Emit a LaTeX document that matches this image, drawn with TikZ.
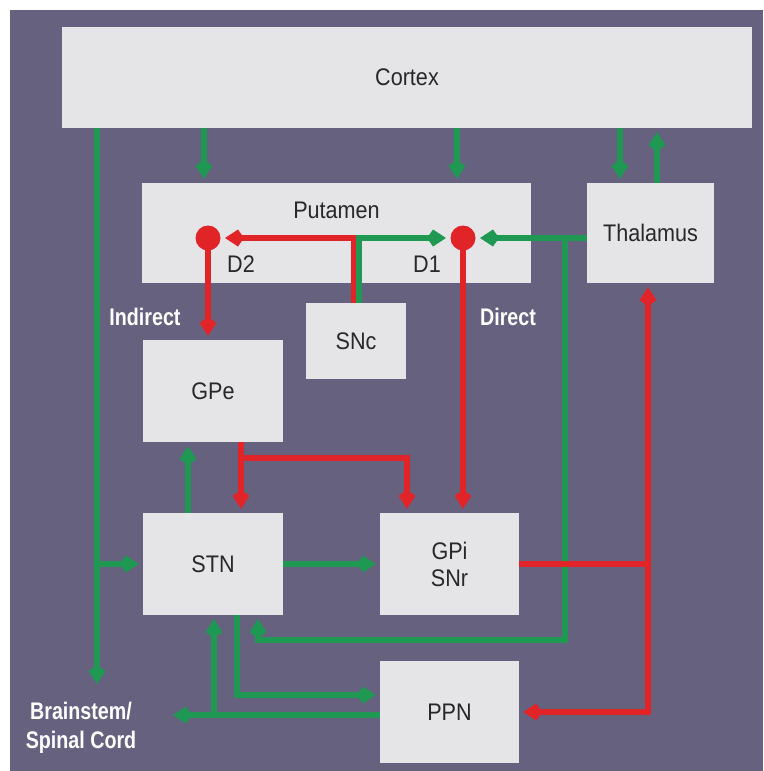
\documentclass[tikz,border=0pt]{standalone}
\usepackage{fontspec}
\setmainfont{Liberation Sans}[FakeStretch=0.9]
\newfontfamily\labfont{Liberation Sans}[FakeStretch=0.82]
\usetikzlibrary{arrows.meta}
\definecolor{bgpurple}{RGB}{103,97,128}
\definecolor{boxgray}{RGB}{229,229,231}
\definecolor{lgreen}{RGB}{30,152,82}
\definecolor{lred}{RGB}{224,36,40}
\definecolor{txt}{RGB}{40,40,40}
\begin{document}
\begin{tikzpicture}[x=1pt,y=-1pt,
  box/.style={fill=boxgray, draw=none, inner sep=0pt, text=txt, font=\fontsize{24}{27}\selectfont, align=center},
  gline/.style={draw=lgreen, line width=5.5pt},
  rline/.style={draw=lred, line width=5.5pt},
  garr/.style={gline, -{Kite[length=19pt,width=17pt,inset=6pt]}, shorten >=4pt},
  rarr/.style={rline, -{Kite[length=19pt,width=17pt,inset=6pt]}, shorten >=4pt},
  lab/.style={text=white, font=\labfont\bfseries\fontsize{24}{29}\selectfont, align=center},
  dlab/.style={text=txt, font=\fontsize{24}{26}\selectfont},
  rdot/.style={circle, fill=lred, minimum size=25pt, inner sep=0pt}]
\useasboundingbox (0,0) rectangle (763,771);
\fill[white] (0,0) rectangle (763,771);
\fill[bgpurple] (10,10) rectangle (763,771);

% boxes
\node[box, minimum width=690pt, minimum height=101pt] (cortex) at (407,77.5) {Cortex};
\node[box, minimum width=389pt, minimum height=100pt] (putamen) at (336.5,233) {};
\node[dlab] (putlab) at (336.5,210) {Putamen};
\node[box, minimum width=127pt, minimum height=100pt] (thalamus) at (650.5,233) {Thalamus};
\node[box, minimum width=100pt, minimum height=76pt] (snc) at (356,341) {SNc};
\node[box, minimum width=140pt, minimum height=102pt] (gpe) at (213,391) {GPe};
\node[box, minimum width=140pt, minimum height=102pt] (stn) at (213,564) {STN};
\node[box, minimum width=139pt, minimum height=102pt] (gpi) at (449.5,564) {GPi\\SNr};
\node[box, minimum width=139pt, minimum height=102pt] (ppn) at (449.5,712) {PPN};

% dopamine receptor dots (positions)
\coordinate (d2) at (208,238);
\coordinate (d1) at (463,238);

% labels
\node[dlab] (d2lab) at (241,264) {D2};
\node[dlab] (d1lab) at (427,264) {D1};
\node[lab] (indir) at (145,317) {Indirect};
\node[lab] (dir) at (508,317) {Direct};
\node[lab] (brain) at (81,728) {Brainstem/\\Spinal Cord};

% junction coordinates
\coordinate (lv) at (97,688);
\coordinate (lj) at (97,564);
\coordinate (sr) at (354,238);
\coordinate (sg) at (359,238);
\coordinate (tv) at (565,238);
\coordinate (tb) at (565,640);
\coordinate (tl) at (258,640);
\coordinate (gj) at (241,458);
\coordinate (gk) at (407,458);
\coordinate (rj) at (648,564);
\coordinate (rb) at (648,712);
\coordinate (bs) at (169,715);
\coordinate (bj) at (214,715);
\coordinate (sp) at (237,695);

% cortex projections
\draw[garr] (204,0 |- cortex.south) -- (204,0 |- putamen.north);
\draw[garr] (457,0 |- cortex.south) -- (457,0 |- putamen.north);
\draw[garr] (620,0 |- cortex.south) -- (620,0 |- thalamus.north);
\draw[garr] (657,0 |- thalamus.north) -- (657,0 |- cortex.south);
\draw[garr] (cortex.south -| lv) -- (lv);
\draw[garr] (lj) -- (stn.west);

% SNc
\draw[rarr] (snc.north -| sr) -- (sr) -- ([xshift=13pt]d2);
\draw[garr] (snc.north -| sg) -- (sg) -- ([xshift=-13pt]d1);

% thalamus to D1 and to STN
\draw[garr] (thalamus.west |- d1) -- ([xshift=13pt]d1);
\draw[garr] (tv) -- (tb) -- (tl) -- (stn.south -| tl);

% striatal outputs
\draw[rarr] (d2) -- (gpe.north -| d2);
\draw[rarr] (d1) -- (gpi.north -| d1);

% GPe / STN
\draw[garr] (stn.north -| 188,0) -- (gpe.south -| 188,0);
\draw[rarr] (gpe.south -| gj) -- (stn.north -| gj);
\draw[rarr] (gj) -- (gk) -- (gpi.north -| gk);
\draw[garr] (stn.east) -- (gpi.west);

% GPi output
\draw[rline] (gpi.east) -- (rj);
\draw[rarr] (rj) -- (thalamus.south -| rj);
\draw[rarr] (rj) -- (rb) -- (ppn.east |- rb);

% PPN / brainstem
\draw[garr] (ppn.west |- bs) -- (bs);
\draw[garr] (bj) -- (stn.south -| bj);
\draw[garr] (stn.south -| sp) -- (sp) -- (ppn.west |- sp);

% dots on top
\node[rdot] (dd2) at (d2) {};
\node[rdot] (dd1) at (d1) {};
\end{tikzpicture}
\end{document}
